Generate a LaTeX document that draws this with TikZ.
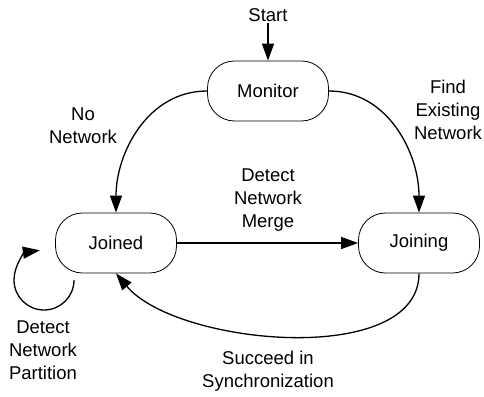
\documentclass[tikz,border=0pt]{standalone}
\usepackage{fontspec}
\setmainfont{Liberation Sans}
\usetikzlibrary{arrows.meta}

\begin{document}
\begin{tikzpicture}[
        x=1pt, y=-1pt,
        every node/.style={font=\fontsize{18.5}{23}\selectfont},
        state/.style={draw, line width=0.8pt, rounded corners=27pt,
            minimum width=121pt, minimum height=60pt},
        label/.style={align=center, inner sep=1pt},
        trans/.style={line width=1.3pt, -{Triangle[length=17pt,width=12pt]}}
    ]
    \useasboundingbox (0,0) rectangle (484,396);

    \node[state] (monitor) at (268,91) {Monitor};
    \node[state] (joined) at (116,243) {Joined};
    \node[state] (joining) at (419,243) {Joining};

    \node[label] (start) at (268,15) {Start};
    \node[label] (nonet) at (83,126) {No\\Network};
    \node[label] (find) at (448,110) {Find\\Existing\\Network};
    \node[label] (merge) at (268,200) {Detect\\Network\\Merge};
    \node[label] (part) at (43,350) {Detect\\Network\\Partition};
    \node[label] (sync) at (268,371) {Succeed in\\Synchronization};

    \draw[trans] (start) -- (monitor);
    \draw[trans] (monitor.west) to[out=180, in=90] (joined.north);
    \draw[trans] (monitor.east) to[out=0, in=90] (joining.north);
    \draw[trans] (joined) -- (joining);
    \draw[trans] (joining.south) to[out=-90, in=-50, looseness=0.8] (joined.south);

    % self loop
    \coordinate (loop) at (74,280);
    \draw[trans] (loop) arc[start angle=0, end angle=262, radius=30];

\end{tikzpicture}
\end{document}
